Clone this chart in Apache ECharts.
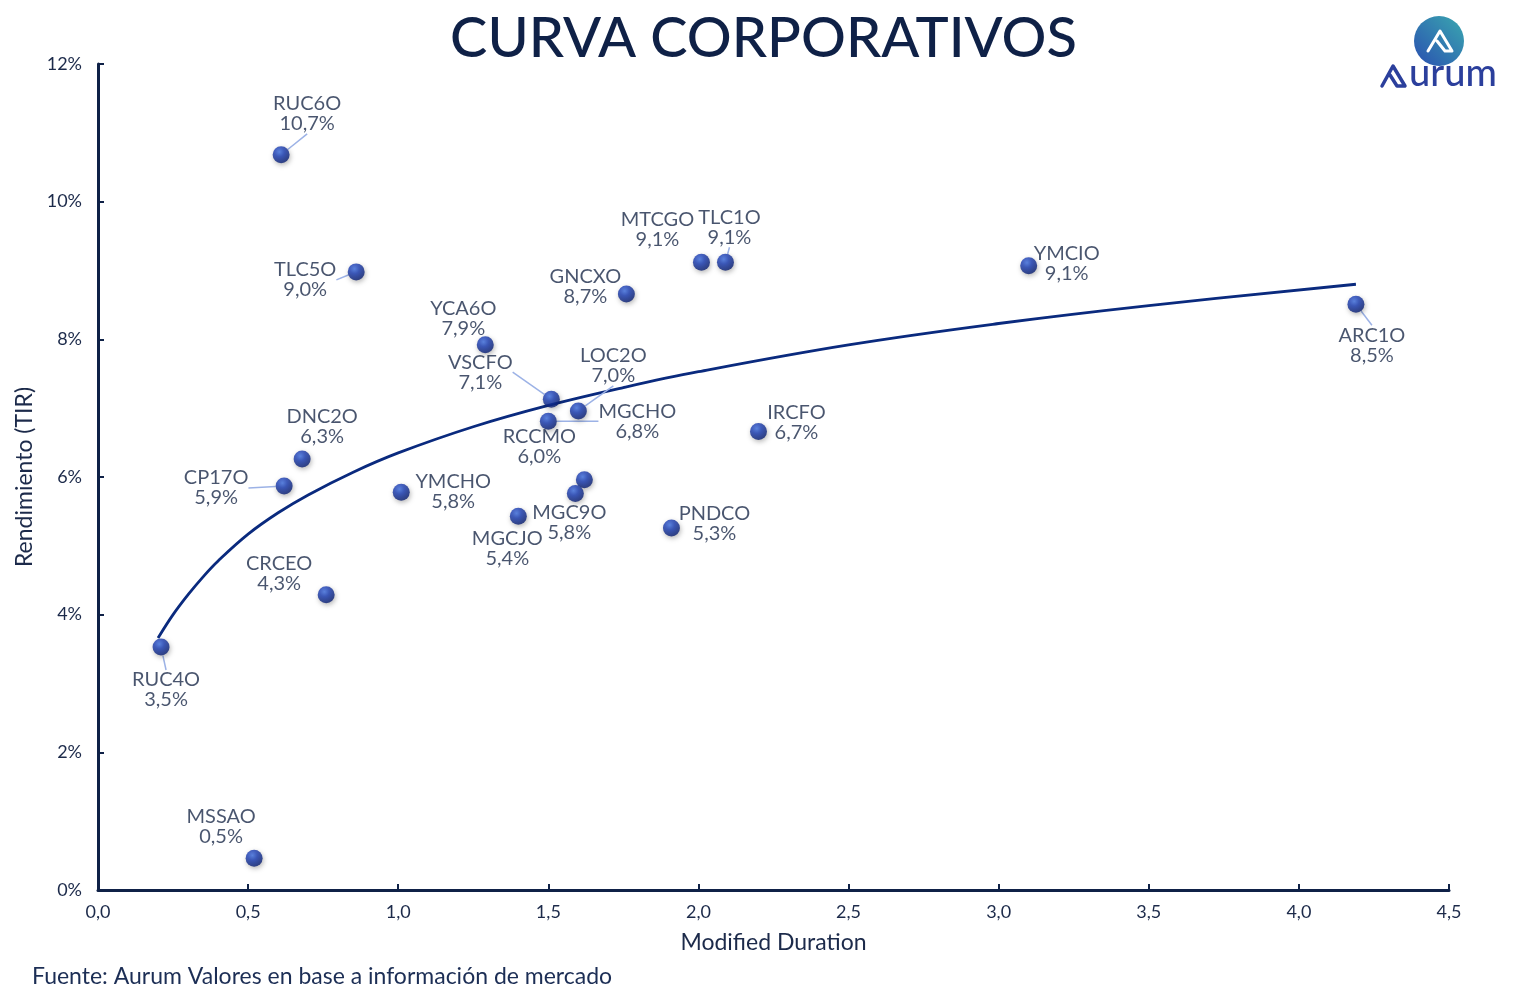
<!DOCTYPE html>
<html>
<head>
<meta charset="utf-8">
<title>Curva Corporativos</title>
<script src="https://cdn.jsdelivr.net/npm/echarts@6/dist/echarts.min.js"></script>
<style>
html, body { margin: 0; padding: 0; background: #fff; }
#chart { width: 1527px; height: 997px; }
</style>
</head>
<body>
<div id="chart"></div>
<script>
// bonos: nombre, duration modificada, TIR (%)
var names = ['RUC6O', 'TLC5O', 'YCA6O', 'VSCFO', 'LOC2O', 'MGCHO', 'RCCMO', 'MGC9O', 'MGCJO', 'YMCHO', 'CP17O',
	'DNC2O', 'CRCEO', 'RUC4O', 'MSSAO', 'MTCGO', 'TLC1O', 'GNCXO', 'IRCFO', 'PNDCO', 'YMCIO', 'ARC1O'];
var duration = [0.61, 0.86, 1.29, 1.51, 1.60, 1.50, 1.62, 1.59, 1.40, 1.01, 0.62,
	0.68, 0.76, 0.21, 0.52, 2.01, 2.09, 1.76, 2.20, 1.91, 3.10, 4.19];
var tir = [10.68, 8.98, 7.92, 7.13, 6.96, 6.81, 5.96, 5.76, 5.43, 5.78, 5.87,
	6.26, 4.29, 3.53, 0.46, 9.12, 9.12, 8.66, 6.66, 5.26, 9.07, 8.51];

// curva de tendencia
var trendX = [0.2, 0.25, 0.3, 0.35, 0.4, 0.5, 0.6, 0.7, 0.85, 1.0, 1.25, 1.5, 1.75, 2.0, 2.5, 3.0, 3.5, 4.19];
var trendY = [3.66, 4.00, 4.29, 4.55, 4.78, 5.17, 5.48, 5.74, 6.07, 6.35, 6.73, 7.04, 7.30, 7.53, 7.92, 8.23, 8.49, 8.80];

// desplazamiento de etiquetas (px) y cuales llevan linea guia
var labelOffsets = {
	RUC6O: [26, -41], TLC5O: [-51, 8], YCA6O: [-22, -26], VSCFO: [-71, -27], LOC2O: [35, -45],
	MGCHO: [89, 0], RCCMO: [-45, -33], MGC9O: [-6, 29], MGCJO: [-11, 32], YMCHO: [52, -1],
	CP17O: [-68, 2], DNC2O: [20, -33], CRCEO: [-47, -21], RUC4O: [5, 43], MSSAO: [-33, -32],
	MTCGO: [-44, -33], TLC1O: [4, -35], GNCXO: [-41, -7], IRCFO: [38, -9], PNDCO: [43, -4],
	YMCIO: [38, -2], ARC1O: [16, 41]
};
var withLeader = ['RUC6O', 'TLC5O', 'VSCFO', 'LOC2O', 'MGCHO', 'CP17O', 'RUC4O', 'TLC1O', 'ARC1O'];

var navy = '#0f2147';
var textCol = '#1c2a4a';
var font = 'Lato, "Open Sans", sans-serif';

function fmtNum(v, d){
	return v.toFixed(d).replace('.', ',');
}

var chart = echarts.init(document.getElementById('chart'));

var points = [];
for (var i = 0; i < names.length; i++) {
	points.push({
		name: names[i],
		value: [duration[i], tir[i]],
		labelLine: { show: withLeader.indexOf(names[i]) >= 0 }
	});
}
var trend = [];
for (var j = 0; j < trendX.length; j++) trend.push([trendX[j], trendY[j]]);

var ballColor = new echarts.graphic.RadialGradient(0.4, 0.33, 0.7, [
	{ offset: 0, color: '#3f70e2' },
	{ offset: 0.4, color: '#1a3db4' },
	{ offset: 1, color: '#081c6c' }
]);

var option = {
	backgroundColor: '#fff',
	animation: false,
	title: {
		text: 'CURVA CORPORATIVOS',
		left: 'center',
		top: 6,
		textStyle: { fontFamily: font, fontSize: 56, fontWeight: 500, color: navy }
	},
	grid: { left: 98, right: 78, top: 64, bottom: 107 },
	xAxis: {
		type: 'value',
		min: 0, max: 4.5, interval: 0.5,
		name: 'Modified Duration',
		nameLocation: 'middle',
		nameGap: 41,
		nameTextStyle: { fontFamily: font, fontSize: 23, color: textCol },
		axisLine: { show: true, lineStyle: { color: navy, width: 3 } },
		axisTick: { show: true, inside: true, length: 6, lineStyle: { color: navy, width: 2 } },
		axisLabel: {
			margin: 13, fontFamily: font, fontSize: 18, color: textCol,
			formatter: function (v) { return fmtNum(v, 1); }
		},
		splitLine: { show: false }
	},
	yAxis: {
		type: 'value',
		min: 0, max: 12, interval: 2,
		name: 'Rendimiento (TIR)',
		nameLocation: 'middle',
		nameGap: 57,
		nameTextStyle: { fontFamily: font, fontSize: 23, color: textCol },
		axisLine: { show: true, lineStyle: { color: navy, width: 3 } },
		axisTick: { show: true, inside: true, length: 6, lineStyle: { color: navy, width: 2 } },
		axisLabel: {
			margin: 16, fontFamily: font, fontSize: 18, color: textCol,
			formatter: function (v) { return v + '%'; }
		},
		splitLine: { show: false }
	},
	series: [{
		name: 'Tendencia',
		type: 'line',
		data: trend,
		smooth: 0.4,
		showSymbol: false,
		lineStyle: { color: '#0a2a7e', width: 2.8 },
		z: 2
	}, {
		name: 'Bonos',
		type: 'scatter',
		data: points,
		symbolSize: 17,
		itemStyle: {
			color: ballColor,
			shadowBlur: 5,
			shadowColor: 'rgba(0,0,0,0.35)',
			shadowOffsetX: 1,
			shadowOffsetY: 2
		},
		label: {
			show: true,
			position: 'inside',
			fontFamily: font,
			fontSize: 20,
			lineHeight: 20,
			color: textCol,
			formatter: function (p) {
				return p.name + '\n' + fmtNum(p.value[1], 1) + '%';
			}
		},
		labelLine: {
			show: true,
			lineStyle: { color: '#9cb2e6', width: 1.5 }
		},
		labelLayout: function (params) {
			var o = labelOffsets[names[params.dataIndex]];
			return { dx: o[0], dy: o[1] };
		},
		z: 3
	}],
	graphic: [{
		type: 'text',
		left: 32,
		top: 965,
		style: {
			text: 'Fuente: Aurum Valores en base a información de mercado',
			font: '23px ' + font,
			fill: '#1c2e55'
		}
	}, {
		type: 'circle',
		shape: { cx: 1439, cy: 41, r: 25 },
		style: {
			fill: new echarts.graphic.LinearGradient(1, 0, 0, 1, [
				{ offset: 0, color: '#3aa8b0' },
				{ offset: 1, color: '#2a4fb0' }
			])
		}
	}, {
		type: 'polyline',
		shape: { points: [[1428, 51], [1440, 31], [1452, 51], [1445, 51], [1437, 41]] },
		style: { stroke: '#fff', lineWidth: 3, fill: null, lineJoin: 'round', lineCap: 'round' }
	}, {
		type: 'polyline',
		shape: { points: [[1382, 86], [1393, 66], [1405, 86], [1397, 86], [1390, 75]] },
		style: { stroke: '#2b3f9c', lineWidth: 3.5, fill: null, lineJoin: 'round', lineCap: 'round' }
	}, {
		type: 'text',
		left: 1409,
		top: 55,
		style: {
			text: 'urum',
			font: '500 38px ' + font,
			fill: '#2b3f9c'
		}
	}]
};
chart.setOption(option);
</script>
</body>
</html>
